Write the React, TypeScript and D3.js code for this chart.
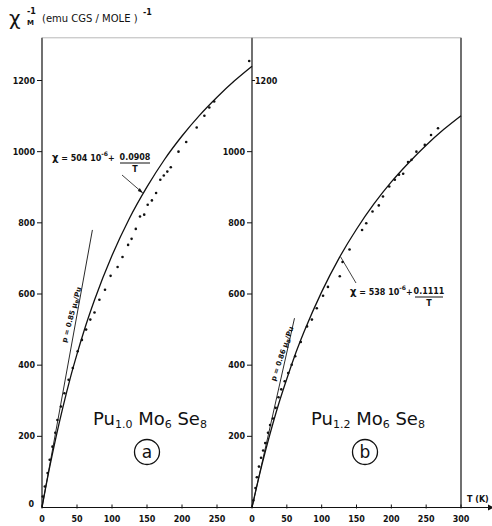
import React from "react";
import * as d3 from "d3";

// temperatures (K) where the fitted curves were read
const curveT = [0, 1, 5, 10, 20, 30, 40, 50, 60, 75, 100, 125, 150, 175, 200, 225, 250, 275, 300];
// panel (a) fit: chi = 504e-6 + 0.0908/T, read as 1/chi
const curveA = [0, 11, 54, 104, 198, 283, 361, 431, 496, 583, 708, 813, 901, 978, 1044, 1102, 1153, 1199, 1240];
// panel (b) fit: chi = 538e-6 + 0.1111/T
const curveB = [0, 9, 44, 86, 164, 236, 302, 362, 419, 495, 606, 701, 782, 853, 915, 969, 1018, 1062, 1101];

// Curie-law straight lines [T, 1/chi]
const curieA = [[0, 0], [72, 780]];
const curieB = [[0, 0], [61, 532]];

// measured points [T, 1/chi]
const pointsA = [
  [1, 31], [4, 59], [8, 97], [11, 134], [15, 171], [19, 210], [22, 246], [27, 284],
  [32, 321], [38, 359], [44, 392], [51, 439], [57, 471], [63, 500], [69, 528], [75, 548],
  [82, 584], [90, 612], [98, 651], [108, 676], [115, 704], [123, 738], [128, 755],
  [134, 783], [140, 818], [146, 823], [151, 851], [157, 863], [163, 884], [169, 921],
  [174, 933], [179, 944], [184, 956], [195, 1000], [206, 1027], [221, 1068], [232, 1101],
  [239, 1124], [246, 1141], [296, 1255],
];
const pointsB = [
  [2, 20], [5, 55], [7, 85], [10, 115], [13, 140], [16, 160], [19, 181], [23, 210],
  [26, 232], [30, 250], [34, 280], [38, 310], [42, 332], [47, 355], [52, 378], [57, 401],
  [62, 425], [70, 465], [79, 509], [86, 528], [93, 560], [102, 595], [109, 620],
  [126, 650], [130, 690], [140, 725], [158, 780], [164, 799], [173, 832], [182, 849],
  [188, 874], [197, 902], [205, 921], [211, 935], [217, 938], [224, 971], [229, 977],
  [236, 1000], [248, 1019], [257, 1047], [267, 1066],
];

const xTicks = [0, 50, 100, 150, 200, 250];
const xTicksB = [0, 50, 100, 150, 200, 250, 300];
const yTicksA = [0, 200, 400, 600, 800, 1000, 1200];
const yTicksB = [200, 400, 600, 800, 1000];

const W = 492;
const H = 526;
const FONT = "DejaVu Sans";
const INK = "#111";

export default function App() {
  const xA = d3.scaleLinear().domain([0, 300]).range([42, 252]);
  const xB = d3.scaleLinear().domain([0, 300]).range([252, 461]);
  const y = d3.scaleLinear().domain([0, 1200]).range([507.5, 80.5]);
  const yTop = y(1320);
  const y0 = y(0);

  const lineA = d3.line<number>().x((_, i) => xA(curveT[i])).y((d) => y(d)).curve(d3.curveMonotoneX);
  const lineB = d3.line<number>().x((_, i) => xB(curveT[i])).y((d) => y(d)).curve(d3.curveMonotoneX);
  const segA = d3.line<number[]>().x((d) => xA(d[0])).y((d) => y(d[1]));
  const segB = d3.line<number[]>().x((d) => xB(d[0])).y((d) => y(d[1]));

  const tickFont = { fontFamily: FONT, fontSize: 8, fontWeight: 700, fill: INK };

  // angle of the Curie lines on screen, for the rotated labels
  const angA = (Math.atan2(y(curieA[1][1]) - y0, xA(curieA[1][0]) - xA(0)) * 180) / Math.PI;
  const angB = (Math.atan2(y(curieB[1][1]) - y0, xB(curieB[1][0]) - xB(0)) * 180) / Math.PI;
  // label anchors: a point on each line, shifted a little to its left
  const labA = { x: xA((curieA[1][0] * 540) / curieA[1][1]) - 3, y: y(540) };
  const labB = { x: xB((curieB[1][0] * 430) / curieB[1][1]) - 2, y: y(430) };

  const formula = (x0: number, base: number, sub1: string) => (
    <text x={x0} y={base} fontFamily={FONT} fontSize={18} fill={INK}>
      Pu<tspan fontSize={11} dy={3}>{sub1}</tspan>
      <tspan dy={-3}> Mo</tspan>
      <tspan fontSize={11} dy={3}>6</tspan>
      <tspan dy={-3}> Se</tspan>
      <tspan fontSize={11} dy={3}>8</tspan>
    </text>
  );

  return (
    <svg width={W} height={H} style={{ position: "absolute", left: 0, top: 0, background: "#fff" }}>
      {/* title */}
      <text x={9} y={25} fontFamily={FONT} fontSize={20} fill={INK}>χ</text>
      <text x={27} y={14} fontFamily={FONT} fontSize={8} fontWeight={700} fill={INK}>-1</text>
      <text x={27} y={25} fontFamily={FONT} fontSize={7} fontWeight={700} fill={INK}>M</text>
      <text x={42} y={22} fontFamily={FONT} fontSize={10} fill={INK}>(emu CGS / MOLE )</text>
      <text x={143} y={15} fontFamily={FONT} fontSize={8} fontWeight={700} fill={INK}>-1</text>

      {/* frame */}
      <g stroke={INK} fill="none">
        <line x1={xA(0)} x2={xA(0)} y1={yTop} y2={y0} strokeWidth={1.2} />
        <line x1={xB(0)} x2={xB(0)} y1={yTop} y2={y0} strokeWidth={1.2} />
        <line x1={xB(300)} x2={xB(300)} y1={yTop} y2={y0} strokeWidth={1.2} />
        <line x1={xA(0)} x2={xB(300)} y1={yTop} y2={yTop} strokeWidth={0.6} stroke="#888" />
        <line x1={xA(0)} x2={488} y1={y0} y2={y0} strokeWidth={1.2} />
      </g>
      <path d={`M488,${y0 - 3} L494,${y0} L488,${y0 + 3} Z`} fill={INK} />
      <text x={467} y={y0 - 6} fontFamily={FONT} fontSize={8} fontWeight={700} fill={INK}>
        T (K)
      </text>

      {/* y ticks, panel a */}
      {yTicksA.map((t) => (
        <g key={"ya" + t}>
          {t > 0 && <line x1={xA(0) - 5} x2={xA(0)} y1={y(t)} y2={y(t)} stroke={INK} />}
          <text x={t > 0 ? xA(0) - 7 : xA(0) - 8} y={t > 0 ? y(t) + 3 : y(t) - 1} textAnchor="end" {...tickFont}>
            {t}
          </text>
        </g>
      ))}
      {/* y ticks, panel b */}
      {yTicksB.map((t) => (
        <g key={"yb" + t}>
          <line x1={xB(0) - 5} x2={xB(0)} y1={y(t)} y2={y(t)} stroke={INK} />
          <text x={xB(0) - 7} y={y(t) + 3} textAnchor="end" {...tickFont}>
            {t}
          </text>
        </g>
      ))}
      <line x1={xB(0)} x2={xB(0) + 3} y1={y(1200)} y2={y(1200)} stroke={INK} />
      <text x={xB(0) + 3} y={y(1200) + 3} {...tickFont}>
        1200
      </text>

      {/* x ticks */}
      {xTicks.map((t) => (
        <g key={"xa" + t}>
          <line x1={xA(t)} x2={xA(t)} y1={y0 - 3} y2={y0 + 1} stroke={INK} />
          <text x={xA(t)} y={522} textAnchor="middle" {...tickFont}>
            {t}
          </text>
        </g>
      ))}
      {xTicksB.map((t) => (
        <g key={"xb" + t}>
          <line x1={xB(t)} x2={xB(t)} y1={y0 - 3} y2={y0 + 1} stroke={INK} />
          <text x={xB(t)} y={522} textAnchor="middle" {...tickFont}>
            {t}
          </text>
        </g>
      ))}

      {/* curves */}
      <path d={lineA(curveA) || ""} fill="none" stroke={INK} strokeWidth={1.3} />
      <path d={lineB(curveB) || ""} fill="none" stroke={INK} strokeWidth={1.3} />
      <path d={segA(curieA) || ""} fill="none" stroke={INK} strokeWidth={0.9} />
      <path d={segB(curieB) || ""} fill="none" stroke={INK} strokeWidth={0.9} />

      {/* points */}
      {pointsA.map((p, i) => (
        <circle key={"pa" + i} cx={xA(p[0])} cy={y(p[1])} r={1.3} fill={INK} />
      ))}
      {pointsB.map((p, i) => (
        <circle key={"pb" + i} cx={xB(p[0])} cy={y(p[1])} r={1.3} fill={INK} />
      ))}

      {/* Curie line labels */}
      <g transform={`translate(${labA.x},${labA.y}) rotate(${angA + 5})`}>
        <text textAnchor="middle" fontFamily={FONT} fontSize={7} fontWeight={700} fill={INK}>
          p = 0.85 μ<tspan fontSize={5} dy={1.5}>B</tspan>
          <tspan dy={-1.5}>/Pu</tspan>
        </text>
      </g>
      <g transform={`translate(${labB.x},${labB.y}) rotate(${angB + 6})`}>
        <text textAnchor="middle" fontFamily={FONT} fontSize={7} fontWeight={700} fill={INK}>
          p = 0.86 μ<tspan fontSize={5} dy={1.5}>B</tspan>
          <tspan dy={-1.5}>/Pu</tspan>
        </text>
      </g>

      {/* fit annotation, panel a */}
      <text x={52} y={161} fontFamily={FONT} fontSize={8} fontWeight={700} fill={INK}>
        <tspan fontSize={10}>χ</tspan> = 504 10<tspan fontSize={6} dy={-5}>-6</tspan>
        <tspan dy={5}>+</tspan>
      </text>
      <text x={135} y={160} textAnchor="middle" fontFamily={FONT} fontSize={8} fontWeight={700} fill={INK}>
        0.0908
      </text>
      <line x1={120} x2={150} y1={163} y2={163} stroke={INK} strokeWidth={1} />
      <text x={135} y={172} textAnchor="middle" fontFamily={FONT} fontSize={8} fontWeight={700} fill={INK}>
        T
      </text>
      <line x1={122} x2={xA(144)} y1={175} y2={y(884)} stroke={INK} strokeWidth={0.8} />
      <path d={`M${xA(144)},${y(884)} l-5,-2 l2,-3 Z`} fill={INK} />

      {/* fit annotation, panel b */}
      <line x1={xB(127)} x2={356} y1={y(705)} y2={283} stroke={INK} strokeWidth={0.8} />
      <text x={350} y={295} fontFamily={FONT} fontSize={8} fontWeight={700} fill={INK}>
        <tspan fontSize={10}>χ</tspan> = 538 10<tspan fontSize={6} dy={-5}>-6</tspan>
        <tspan dy={5}>+</tspan>
      </text>
      <text x={429} y={294} textAnchor="middle" fontFamily={FONT} fontSize={8} fontWeight={700} fill={INK}>
        0.1111
      </text>
      <line x1={415} x2={443} y1={297} y2={297} stroke={INK} strokeWidth={1} />
      <text x={429} y={306} textAnchor="middle" fontFamily={FONT} fontSize={8} fontWeight={700} fill={INK}>
        T
      </text>

      {/* compound labels */}
      {formula(93, 425, "1.0")}
      {formula(311, 425, "1.2")}
      <circle cx={147} cy={452} r={12.5} fill="none" stroke={INK} strokeWidth={1.3} />
      <text x={147} y={458} textAnchor="middle" fontFamily={FONT} fontSize={17} fill={INK}>a</text>
      <circle cx={365} cy={452} r={12.5} fill="none" stroke={INK} strokeWidth={1.3} />
      <text x={365} y={458} textAnchor="middle" fontFamily={FONT} fontSize={17} fill={INK}>b</text>
    </svg>
  );
}
